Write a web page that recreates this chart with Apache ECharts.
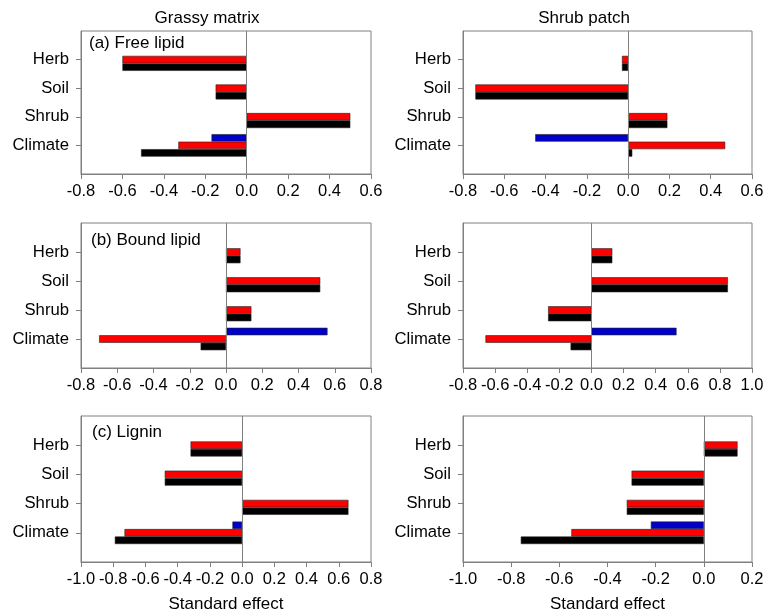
<!DOCTYPE html>
<html>
<head>
<meta charset="utf-8">
<script src="https://cdn.jsdelivr.net/npm/echarts@6/dist/echarts.min.js"></script>
<style>
  html, body { margin: 0; padding: 0; background: #fff; }
  #main { width: 775px; height: 616px; }
</style>
</head>
<body>
<div id="main"></div>
<script>
// categories from bottom to top
var categories = ["Climate", "Shrub", "Soil", "Herb"];

// panel values, same order as categories
// blue series only has a value for Climate
var freeGrassBlue = [-0.17, null, null, null];
var freeGrassRed = [-0.33, 0.50, -0.15, -0.60];
var freeGrassBlack = [-0.51, 0.50, -0.15, -0.60];

var freeShrubBlue = [-0.45, null, null, null];
var freeShrubRed = [0.47, 0.19, -0.74, -0.03];
var freeShrubBlack = [0.02, 0.19, -0.74, -0.03];

var boundGrassBlue = [0.56, null, null, null];
var boundGrassRed = [-0.70, 0.14, 0.52, 0.08];
var boundGrassBlack = [-0.14, 0.14, 0.52, 0.08];

var boundShrubBlue = [0.53, null, null, null];
var boundShrubRed = [-0.66, -0.27, 0.85, 0.13];
var boundShrubBlack = [-0.13, -0.27, 0.85, 0.13];

var ligninGrassBlue = [-0.06, null, null, null];
var ligninGrassRed = [-0.73, 0.66, -0.48, -0.32];
var ligninGrassBlack = [-0.79, 0.66, -0.48, -0.32];

var ligninShrubBlue = [-0.22, null, null, null];
var ligninShrubRed = [-0.55, -0.32, -0.30, 0.14];
var ligninShrubBlack = [-0.76, -0.32, -0.30, 0.14];

// x axis ranges [min, max]
var xRanges = [[-0.8, 0.6], [-0.8, 0.6], [-0.8, 0.8], [-0.8, 1.0], [-1.0, 0.8], [-1.0, 0.2]];

var colTitles = ["Grassy matrix", "Shrub patch"];
var panelLabels = ["(a) Free lipid", "(b) Bound lipid", "(c) Lignin"];
var xName = "Standard effect";

var panels = [
  [freeGrassBlue, freeGrassRed, freeGrassBlack],
  [freeShrubBlue, freeShrubRed, freeShrubBlack],
  [boundGrassBlue, boundGrassRed, boundGrassBlack],
  [boundShrubBlue, boundShrubRed, boundShrubBlack],
  [ligninGrassBlue, ligninGrassRed, ligninGrassBlack],
  [ligninShrubBlue, ligninShrubRed, ligninShrubBlack]
];

var grids = [
  { left: 81, top: 31, width: 290, height: 143 },
  { left: 463, top: 31, width: 289, height: 143 },
  { left: 81, top: 223, width: 290, height: 145 },
  { left: 463, top: 223, width: 289, height: 145 },
  { left: 81, top: 416, width: 290, height: 146 },
  { left: 463, top: 416, width: 289, height: 146 }
];

var font = "Liberation Sans, Arial, sans-serif";
var colors = ["#0000c8", "#ff0000", "#000000"];
var yData = [""].concat(categories).concat([""]);

function pad(arr) {
  return [null].concat(arr).concat([null]);
}

var myChart = echarts.init(document.getElementById("main"));

var xAxes = [], yAxes = [], series = [];
grids.forEach(function (g, i) {
  g.show = true;
  g.borderColor = "#808080";
  g.borderWidth = 1;
  g.containLabel = false;
  g.outerBoundsMode = "none";
  xAxes.push({
    type: "value",
    gridIndex: i,
    min: xRanges[i][0],
    max: xRanges[i][1],
    interval: 0.2,
    splitLine: { show: false },
    axisLine: { show: true, onZero: false, lineStyle: { color: "#808080" } },
    axisTick: { show: true, inside: false, length: 5, lineStyle: { color: "#808080" } },
    axisLabel: {
      color: "#000",
      fontSize: 16.5,
      fontFamily: font,
      margin: 9,
      hideOverlap: false,
      formatter: function (v) {
        return Math.abs(v) < 1e-9 ? "0.0" : v.toFixed(1);
      }
    },
    name: i >= 4 ? xName : "",
    nameLocation: "middle",
    nameGap: 34,
    nameTextStyle: { color: "#000", fontSize: 17, fontFamily: font }
  });
  yAxes.push({
    type: "category",
    gridIndex: i,
    data: yData,
    boundaryGap: false,
    axisLine: { show: true, onZero: false, lineStyle: { color: "#808080" } },
    axisTick: {
      show: true,
      length: 5,
      interval: function (idx) { return idx > 0 && idx < 5; },
      lineStyle: { color: "#808080" }
    },
    axisLabel: { color: "#000", fontSize: 16.7, fontFamily: font, margin: 12, interval: 0 },
    splitLine: { show: false }
  });
  panels[i].forEach(function (vals, k) {
    var s = {
      type: "bar",
      xAxisIndex: i,
      yAxisIndex: i,
      data: pad(vals),
      barWidth: 7.5,
      barGap: "0%",
      itemStyle: { color: colors[k], borderColor: "#222", borderWidth: 0.6 },
      silent: true
    };
    if (k === 1) {
      s.markLine = {
        silent: true,
        symbol: "none",
        label: { show: false },
        lineStyle: { color: "#808080", width: 1, type: "solid" },
        data: [{ xAxis: 0 }]
      };
    }
    series.push(s);
  });
});

var titles = [
  { text: colTitles[0], left: 207, top: 10, textAlign: "center" },
  { text: colTitles[1], left: 584, top: 10, textAlign: "center" },
  { text: panelLabels[0], left: 89, top: 35 },
  { text: panelLabels[1], left: 91, top: 232 },
  { text: panelLabels[2], left: 92, top: 424 }
].map(function (t) {
  t.padding = 0;
  t.textStyle = { color: "#000", fontSize: 17, fontWeight: "normal", fontFamily: font };
  return t;
});

option = {
  backgroundColor: "#fff",
  animation: false,
  title: titles,
  grid: grids,
  xAxis: xAxes,
  yAxis: yAxes,
  series: series
};

myChart.setOption(option);
</script>
</body>
</html>
